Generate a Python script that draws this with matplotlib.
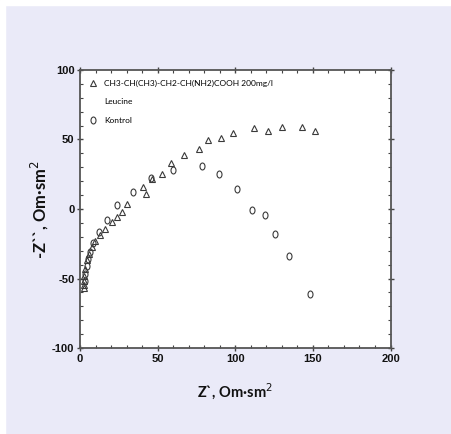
import matplotlib
matplotlib.use("Agg")
import matplotlib.pyplot as plt
from matplotlib.ticker import MultipleLocator
from matplotlib.path import Path
from matplotlib.transforms import Affine2D
from matplotlib.lines import Line2D

plt.rcParams["axes.unicode_minus"] = False

# Leucine 200 mg/l (triangles)
leu_x = [2.5, 2.6, 2.6, 2.8, 3.2, 4.3, 6.0, 7.5, 9.7, 12.9, 16.1, 20.4, 23.6, 26.8, 30.5,
         40.4, 42.5, 46.1, 52.6, 58.6, 67.2, 76.4, 82.6, 90.6, 98.7, 112.0, 120.8,
         130.0, 142.7, 151.5]
leu_y = [-57, -55, -51.9, -47.9, -43, -37, -32.3, -27.5, -22.7, -19, -14.2, -9.5, -5.8,
         -2.2, 3.8, 15.8, 11, 21.9, 25.5, 33.1, 38.7, 43.3, 49.5, 51.2, 54.8, 57.9, 56.2,
         58.6, 58.6, 56]

# Kontrol (circles)
kon_x = [3.0, 3.5, 4.3, 5.0, 6.4, 8.6, 12.4, 17.2, 23.6, 34.3, 46.0, 60.1, 78.5,
         89.3, 100.9, 110.9, 119.3, 125.7, 134.8, 148.1]
kon_y = [-52, -47, -40.7, -36, -31.1, -24.6, -16.6, -8.2, 2.6, 12.2, 22, 27.8, 30.7,
         25, 14.6, -0.5, -4.6, -18.3, -33.5, -61]

bg = "#eaeaf8"
ink = "#3a3a3a"
fig = plt.figure(figsize=(4.52, 4.34), dpi=100, facecolor=bg)
# thin white strip along top and left edge
fig.patches.append(plt.Rectangle((0, 1 - 5 / 434), 1, 5 / 434, transform=fig.transFigure,
                                 color="white", zorder=0))
fig.patches.append(plt.Rectangle((0, 0), 5 / 452, 1, transform=fig.transFigure,
                                 color="white", zorder=0))

ax = fig.add_axes([0.177, 0.198, 0.687, 0.641])
ax.set_facecolor("white")

# upright ellipse, the circles look a bit squashed in the original
ellipse = Path.unit_circle().transformed(Affine2D().scale(0.72, 1.0))

h_leu, = ax.plot(leu_x, leu_y, linestyle="none", marker="^", markersize=4.5,
                 markerfacecolor="none", markeredgecolor=ink, markeredgewidth=0.8)
h_kon, = ax.plot(kon_x, kon_y, linestyle="none", marker=ellipse, markersize=5,
                 markerfacecolor="none", markeredgecolor=ink, markeredgewidth=0.8)

ax.set_xlim(0, 200)
ax.set_ylim(-100, 100)
ax.xaxis.set_major_locator(MultipleLocator(50))
ax.xaxis.set_minor_locator(MultipleLocator(10))
ax.yaxis.set_major_locator(MultipleLocator(50))
ax.yaxis.set_minor_locator(MultipleLocator(10))

tickfont = ["Liberation Sans Narrow", "Liberation Sans"]
ax.tick_params(which="major", direction="inout", length=5, width=1, color="#444444",
               labelsize=8, pad=1.5, top=True, right=True, labelcolor="#111111")
ax.tick_params(which="minor", direction="in", length=2.5, width=0.8, color="#444444",
               top=True, right=True)
for lab in ax.get_xticklabels() + ax.get_yticklabels():
    lab.set_family(tickfont)
    lab.set_fontweight("bold")

for sp in ax.spines.values():
    sp.set_color("#555555")
    sp.set_linewidth(1.3)

ax.set_xlabel("Z`, Om·sm$^2$", fontsize=10.5, family="Lato", fontweight="bold",
              color="#111111", labelpad=13)
ax.set_ylabel("-Z``, Om·sm$^2$", fontsize=12, family="Lato", fontweight="bold",
              color="#111111", labelpad=1)

# legend: second line "Leucine" as its own row without marker
blank = Line2D([], [], linestyle="none", marker=None)
ax.legend([h_leu, blank, h_kon],
          ["CH3-CH(CH3)-CH2-CH(NH2)COOH 200mg/l", "Leucine", "Kontrol"],
          loc="upper left", frameon=False, handlelength=0.6,
          handletextpad=1.1, labelspacing=1.35, borderaxespad=0.8,
          prop={"family": "Lato", "size": 6})

fig.savefig("out.png", dpi=100, facecolor=bg)
